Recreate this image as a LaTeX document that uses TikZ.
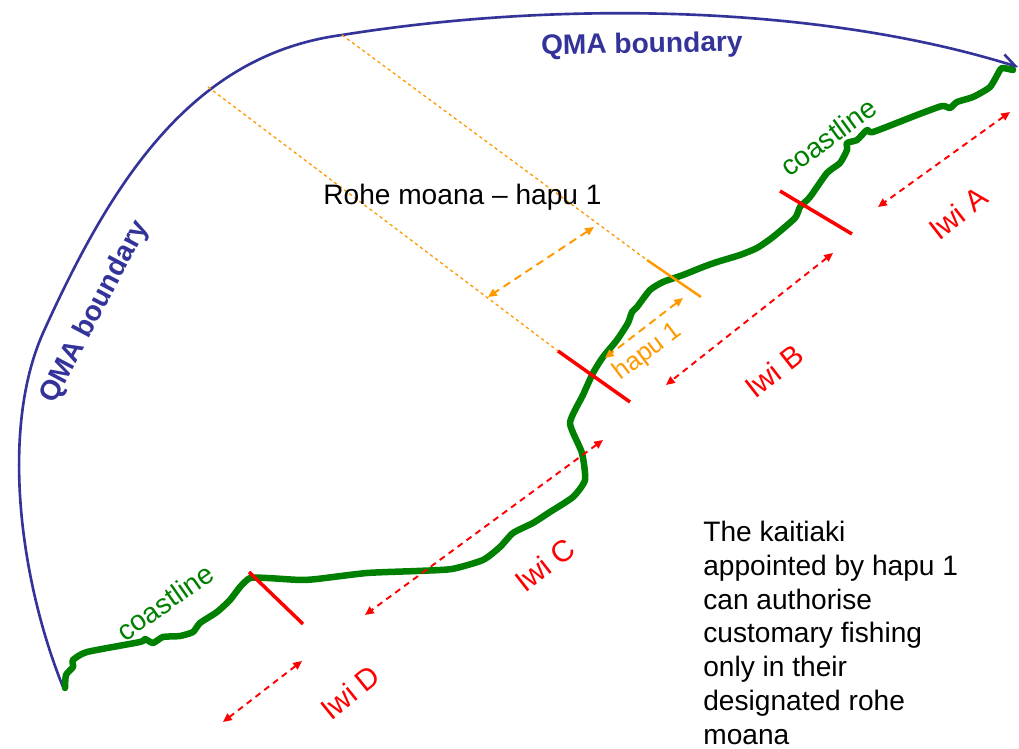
\documentclass[tikz,border=0pt]{standalone}
\usepackage{fontspec}
\setmainfont{Liberation Sans}
\usetikzlibrary{arrows.meta}
\definecolor{qmablue}{HTML}{333399}
\definecolor{coastgreen}{HTML}{008000}
\definecolor{hapuorange}{HTML}{FF9900}
\tikzset{
	qma/.style={draw=qmablue,line width=1.5pt},
	qmatext/.style={text=qmablue,inner sep=0pt,font=\fontsize{16}{19}\selectfont\bfseries},
	coast/.style={draw=coastgreen,line width=3.7pt,line join=round,line cap=round},
	coasttext/.style={text=coastgreen,inner sep=0pt,font=\fontsize{16}{19}\selectfont},
	cut/.style={draw=red,line width=2pt},
	iwi/.style={draw=red,line width=1.1pt,dash pattern=on 3.5pt off 2.8pt,{Triangle[length=5pt,width=4.5pt]}-{Triangle[length=5pt,width=4.5pt]}},
	iwitext/.style={text=red,inner sep=0pt,font=\fontsize{17}{20}\selectfont},
	rohe/.style={draw=hapuorange,line width=0.75pt,dash pattern=on 1.8pt off 1.8pt},
	hapu/.style={draw=hapuorange,line width=1.1pt,dash pattern=on 4.5pt off 3pt,{Triangle[length=5pt,width=4.5pt]}-{Triangle[length=5pt,width=4.5pt]}},
	haputext/.style={text=hapuorange,inner sep=0pt,font=\fontsize{14.5}{17}\selectfont}
}
\begin{document}
\begin{tikzpicture}[x=0.02cm,y=-0.02cm]
	\useasboundingbox (0,0) rectangle (1019,749);
	\draw[qma,-{Straight Barb[length=8pt,width=9pt]}] (63,687) .. controls (20,580) and (0,430) .. (43,333) .. controls (110,185) and (190,55) .. (342,35) .. controls (560,0) and (820,5) .. (1018,67);
	\draw[coast] plot[smooth,tension=0.35] coordinates {(65,688) (66,675) (73,667) (73,660) (87,652) (140,642) (145,639) (153,643) (163,637) (180,636) (193,632) (200,623) (217,612) (230,600) (240,587) (250,578) (267,578) (300,580) (317,579) (367,573) (417,571) (452,569) (483,560) (500,547) (513,533) (533,523) (550,512) (573,497) (585,480) (582,453) (570,423) (583,395) (593,373) (603,357) (617,340) (628,323) (632,312) (637,307) (650,290) (663,282) (683,275) (703,267) (717,262) (740,255) (757,248) (773,237) (795,218) (800,207) (810,197) (827,173) (840,163) (847,150) (847,143) (857,140) (867,130) (873,132) (917,115) (942,106) (950,108) (957,102) (973,97) (990,87) (1000,70) (1003,68) (1013,70)};
	\coordinate (rohe1) at (208,87); \coordinate (rohe2) at (342,35);
	\coordinate (cutBC1) at (558,351); \coordinate (cutBC2) at (630,402);
	\coordinate (cutH1) at (647,260); \coordinate (cutH2) at (701,297);
	\coordinate (cutAB1) at (780,191); \coordinate (cutAB2) at (852,234);
	\coordinate (cutCD1) at (249,572); \coordinate (cutCD2) at (303,624);
	\draw[rohe] (rohe1) -- (cutBC1);
	\draw[rohe] (rohe2) -- (cutH1);
	\draw[draw=hapuorange,line width=1.4pt] (cutH1) -- (cutH2);
	\draw[cut] (cutBC1) -- (cutBC2);
	\draw[cut] (cutAB1) -- (cutAB2);
	\draw[cut] (cutCD1) -- (cutCD2);
	\coordinate (iwiA1) at (1010,112); \coordinate (iwiA2) at (878,207);
	\coordinate (iwiB1) at (833,253); \coordinate (iwiB2) at (666,385);
	\coordinate (iwiC1) at (603,440); \coordinate (iwiC2) at (365,615);
	\coordinate (iwiD1) at (302,661); \coordinate (iwiD2) at (223,722);
	\coordinate (hapu1) at (683,298); \coordinate (hapu2) at (605,358);
	\coordinate (rohe3) at (594,227); \coordinate (rohe4) at (488,297);
	\draw[iwi] (iwiA1) -- (iwiA2);
	\draw[iwi] (iwiB1) -- (iwiB2);
	\draw[iwi] (iwiC1) -- (iwiC2);
	\draw[iwi] (iwiD1) -- (iwiD2);
	\draw[hapu] (hapu1) -- (hapu2);
	\draw[hapu] (rohe3) -- (rohe4);
	\node (qmatop) [qmatext,anchor=base,rotate=1] at (642,53) {QMA boundary};
	\node (qmaleft) [qmatext,rotate=62] at (95,312) {QMA boundary};
	\node (coastA) [coasttext,rotate=36] at (828,137) {coastline};
	\node (coastD) [coasttext,rotate=35] at (165,602) {coastline};
	\node (labA) [iwitext,rotate=38] at (958,213) {Iwi A};
	\node (labB) [iwitext,rotate=38] at (774,371) {Iwi B};
	\node (labC) [iwitext,rotate=38] at (545,565) {Iwi C};
	\node (labD) [iwitext,rotate=39] at (350,692) {Iwi D};
	\node (labH) [haputext,rotate=37] at (648,352) {hapu 1};
	\node (rohename) [inner sep=0pt,anchor=base west,font=\fontsize{16}{19}\selectfont] at (323,205) {Rohe moana – hapu 1};
	\node (note) [inner sep=0pt,anchor=north west,align=left,font=\fontsize{16}{19.2}\selectfont] at (703,521) {The kaitiaki\\appointed by hapu 1\\can authorise\\customary fishing\\only in their\\designated rohe\\moana};
\end{tikzpicture}
\end{document}
